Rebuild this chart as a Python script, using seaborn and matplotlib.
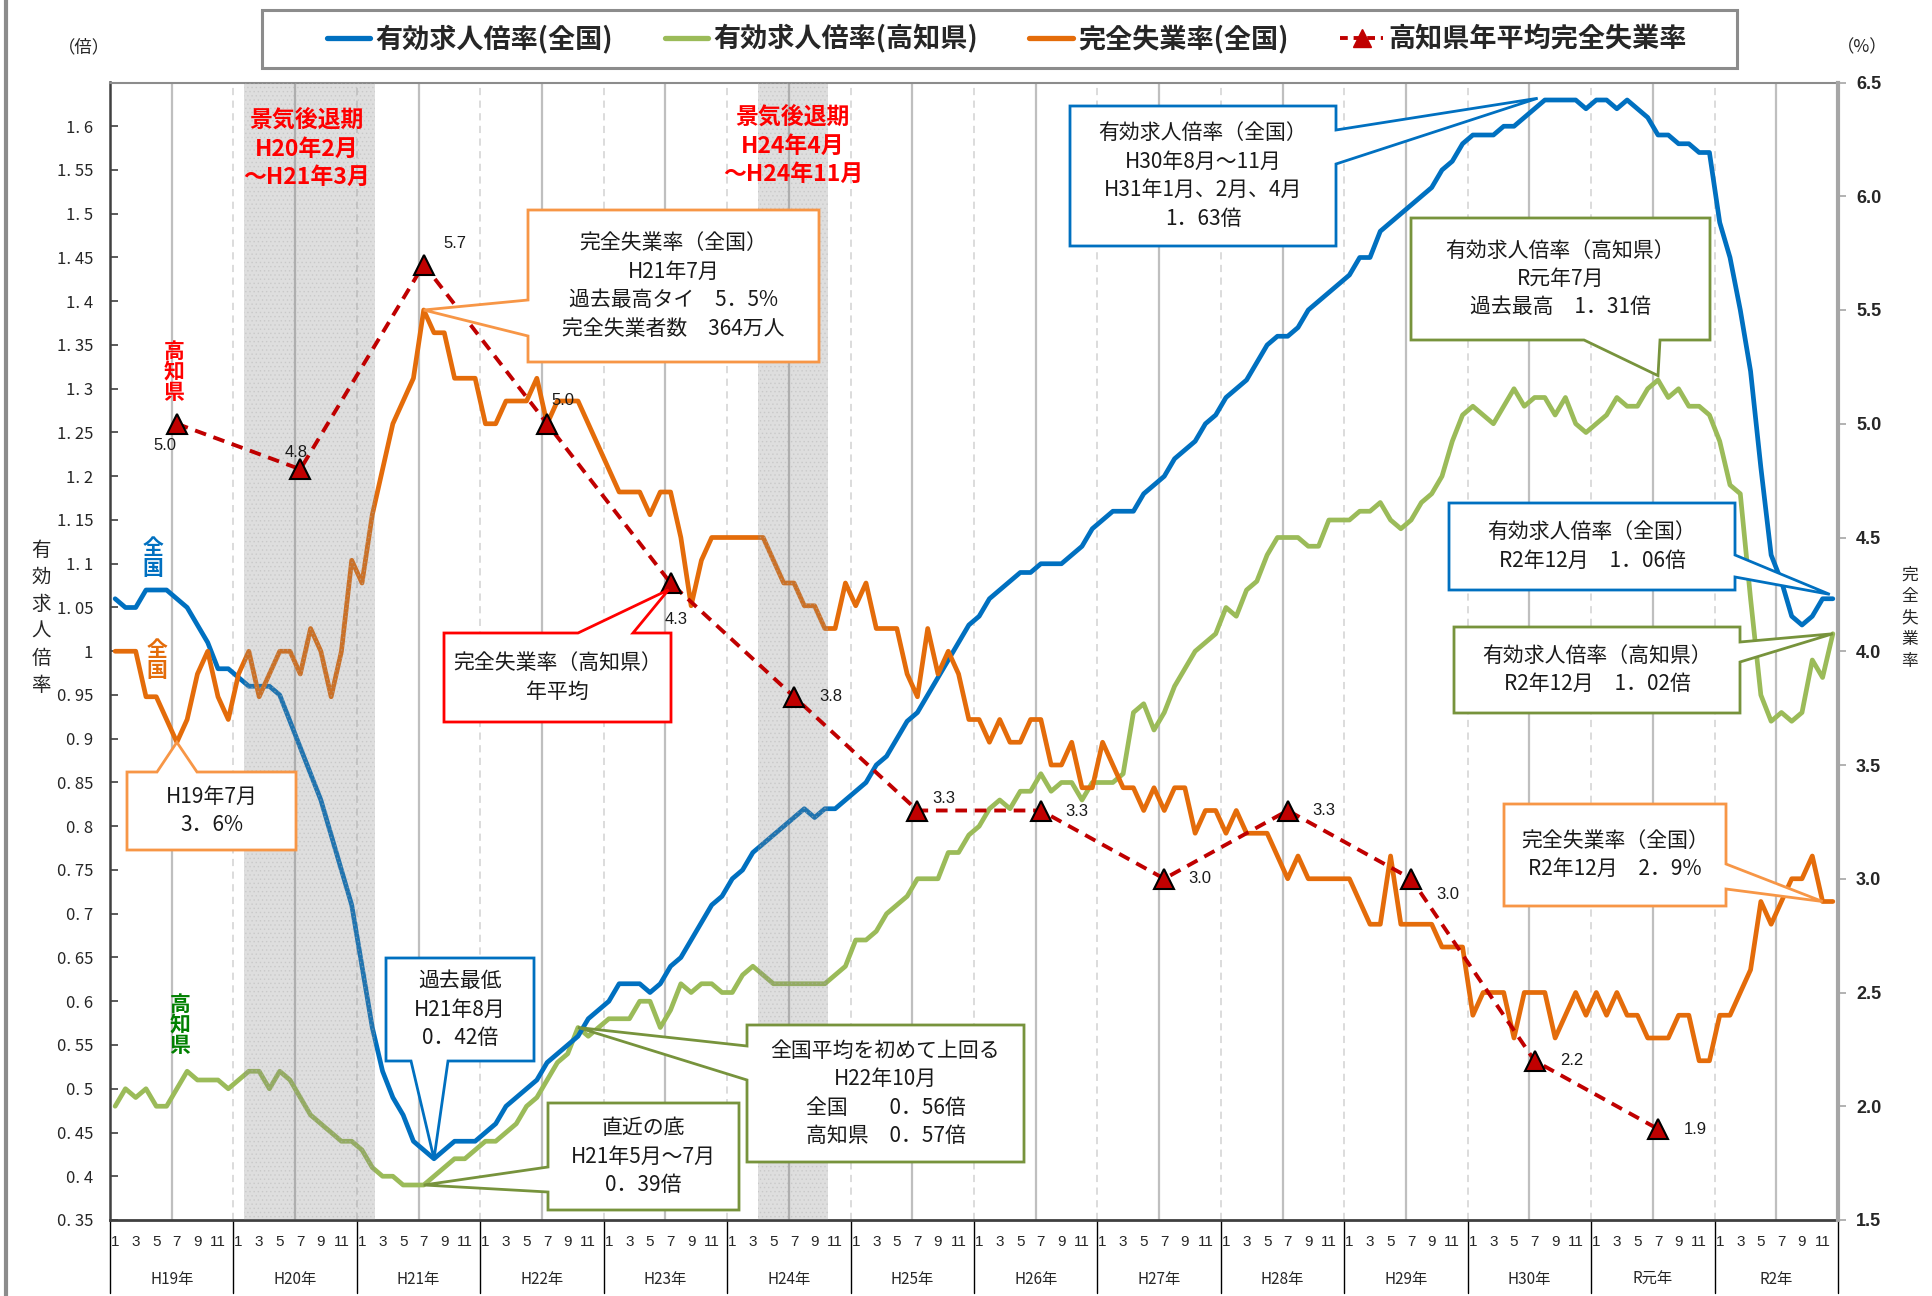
import numpy as np
import pandas as pd
import matplotlib
matplotlib.use("Agg")
import matplotlib.pyplot as plt
import matplotlib.transforms as mtransforms
from matplotlib.patches import Polygon, Rectangle
from matplotlib.lines import Line2D
import seaborn as sns

# ---------------- data ----------------
years = ["H19年", "H20年", "H21年", "H22年", "H23年", "H24年", "H25年",
         "H26年", "H27年", "H28年", "H29年", "H30年", "R元年", "R2年"]
month_labels = ["1", "3", "5", "7", "9", "11"]

# 有効求人倍率(全国)  monthly, H19.1 - R2.12
jobs_national = [
    1.06, 1.05, 1.05, 1.07, 1.07, 1.07, 1.06, 1.05, 1.03, 1.01, 0.98, 0.98,
    0.97, 0.96, 0.96, 0.96, 0.95, 0.92, 0.89, 0.86, 0.83, 0.79, 0.75, 0.71,
    0.64, 0.57, 0.52, 0.49, 0.47, 0.44, 0.43, 0.42, 0.43, 0.44, 0.44, 0.44,
    0.45, 0.46, 0.48, 0.49, 0.50, 0.51, 0.53, 0.54, 0.55, 0.56, 0.58, 0.59,
    0.60, 0.62, 0.62, 0.62, 0.61, 0.62, 0.64, 0.65, 0.67, 0.69, 0.71, 0.72,
    0.74, 0.75, 0.77, 0.78, 0.79, 0.80, 0.81, 0.82, 0.81, 0.82, 0.82, 0.83,
    0.84, 0.85, 0.87, 0.88, 0.90, 0.92, 0.93, 0.95, 0.97, 0.99, 1.01, 1.03,
    1.04, 1.06, 1.07, 1.08, 1.09, 1.09, 1.10, 1.10, 1.10, 1.11, 1.12, 1.14,
    1.15, 1.16, 1.16, 1.16, 1.18, 1.19, 1.20, 1.22, 1.23, 1.24, 1.26, 1.27,
    1.29, 1.30, 1.31, 1.33, 1.35, 1.36, 1.36, 1.37, 1.39, 1.40, 1.41, 1.42,
    1.43, 1.45, 1.45, 1.48, 1.49, 1.50, 1.51, 1.52, 1.53, 1.55, 1.56, 1.58,
    1.59, 1.59, 1.59, 1.60, 1.60, 1.61, 1.62, 1.63, 1.63, 1.63, 1.63, 1.62,
    1.63, 1.63, 1.62, 1.63, 1.62, 1.61, 1.59, 1.59, 1.58, 1.58, 1.57, 1.57,
    1.49, 1.45, 1.39, 1.32, 1.21, 1.11, 1.08, 1.04, 1.03, 1.04, 1.06, 1.06,
]

# 有効求人倍率(高知県)
jobs_kochi = [
    0.48, 0.50, 0.49, 0.50, 0.48, 0.48, 0.50, 0.52, 0.51, 0.51, 0.51, 0.50,
    0.51, 0.52, 0.52, 0.50, 0.52, 0.51, 0.49, 0.47, 0.46, 0.45, 0.44, 0.44,
    0.43, 0.41, 0.40, 0.40, 0.39, 0.39, 0.39, 0.40, 0.41, 0.42, 0.42, 0.43,
    0.44, 0.44, 0.45, 0.46, 0.48, 0.49, 0.51, 0.53, 0.54, 0.57, 0.56, 0.57,
    0.58, 0.58, 0.58, 0.60, 0.60, 0.57, 0.59, 0.62, 0.61, 0.62, 0.62, 0.61,
    0.61, 0.63, 0.64, 0.63, 0.62, 0.62, 0.62, 0.62, 0.62, 0.62, 0.63, 0.64,
    0.67, 0.67, 0.68, 0.70, 0.71, 0.72, 0.74, 0.74, 0.74, 0.77, 0.77, 0.79,
    0.80, 0.82, 0.83, 0.82, 0.84, 0.84, 0.86, 0.84, 0.85, 0.85, 0.83, 0.85,
    0.85, 0.85, 0.86, 0.93, 0.94, 0.91, 0.93, 0.96, 0.98, 1.00, 1.01, 1.02,
    1.05, 1.04, 1.07, 1.08, 1.11, 1.13, 1.13, 1.13, 1.12, 1.12, 1.15, 1.15,
    1.15, 1.16, 1.16, 1.17, 1.15, 1.14, 1.15, 1.17, 1.18, 1.20, 1.24, 1.27,
    1.28, 1.27, 1.26, 1.28, 1.30, 1.28, 1.29, 1.29, 1.27, 1.29, 1.26, 1.25,
    1.26, 1.27, 1.29, 1.28, 1.28, 1.30, 1.31, 1.29, 1.30, 1.28, 1.28, 1.27,
    1.24, 1.19, 1.18, 1.06, 0.95, 0.92, 0.93, 0.92, 0.93, 0.99, 0.97, 1.02,
]

# 完全失業率(全国) %
unemp_national = [
    4.0, 4.0, 4.0, 3.8, 3.8, 3.7, 3.6, 3.7, 3.9, 4.0, 3.8, 3.7,
    3.9, 4.0, 3.8, 3.9, 4.0, 4.0, 3.9, 4.1, 4.0, 3.8, 4.0, 4.4,
    4.3, 4.6, 4.8, 5.0, 5.1, 5.2, 5.5, 5.4, 5.4, 5.2, 5.2, 5.2,
    5.0, 5.0, 5.1, 5.1, 5.1, 5.2, 5.0, 5.1, 5.1, 5.1, 5.0, 4.9,
    4.8, 4.7, 4.7, 4.7, 4.6, 4.7, 4.7, 4.5, 4.2, 4.4, 4.5, 4.5,
    4.5, 4.5, 4.5, 4.5, 4.4, 4.3, 4.3, 4.2, 4.2, 4.1, 4.1, 4.3,
    4.2, 4.3, 4.1, 4.1, 4.1, 3.9, 3.8, 4.1, 3.9, 4.0, 3.9, 3.7,
    3.7, 3.6, 3.7, 3.6, 3.6, 3.7, 3.7, 3.5, 3.5, 3.6, 3.4, 3.4,
    3.6, 3.5, 3.4, 3.4, 3.3, 3.4, 3.3, 3.4, 3.4, 3.2, 3.3, 3.3,
    3.2, 3.3, 3.2, 3.2, 3.2, 3.1, 3.0, 3.1, 3.0, 3.0, 3.0, 3.0,
    3.0, 2.9, 2.8, 2.8, 3.1, 2.8, 2.8, 2.8, 2.8, 2.7, 2.7, 2.7,
    2.4, 2.5, 2.5, 2.5, 2.3, 2.5, 2.5, 2.5, 2.3, 2.4, 2.5, 2.4,
    2.5, 2.4, 2.5, 2.4, 2.4, 2.3, 2.3, 2.3, 2.4, 2.4, 2.2, 2.2,
    2.4, 2.4, 2.5, 2.6, 2.9, 2.8, 2.9, 3.0, 3.0, 3.1, 2.9, 2.9,
]

# 高知県年平均完全失業率 (plotted at July of each year)
kochi_annual = [5.0, 4.8, 5.7, 5.0, 4.3, 3.8, 3.3, 3.3, 3.0, 3.3, 3.0, 2.2, 1.9]

# recession periods (start month index, end month index)
recession_start = [13, 63]
recession_end = [26, 70]
recession_texts = ["景気後退期\nH20年2月\n～H21年3月", "景気後退期\nH24年4月\n～H24年11月"]

legend_labels = ["有効求人倍率(全国)", "有効求人倍率(高知県)", "完全失業率(全国)", "高知県年平均完全失業率"]

# ---------------- style ----------------
sns.set_theme(style="white")
JP = ["Noto Sans CJK JP", "DejaVu Sans"]
plt.rcParams["font.family"] = JP
plt.rcParams["axes.unicode_minus"] = False

C_BLUE = "#0070C0"
C_GREEN = "#9BBB59"
C_ORANGE = "#E46C0A"
C_RED = "#C00000"

W, H = 1932, 1296
fig = plt.figure(figsize=(W / 100, H / 100), dpi=100)
fig.patch.set_facecolor("white")

L, R, T, B = 110, 1838, 82.5, 1220
ax = fig.add_axes([L / W, 1 - B / H, (R - L) / W, (B - T) / H])
ax.set_facecolor("white")
ax2 = ax.twinx()

n = len(jobs_national)
months = np.arange(n)
df = pd.DataFrame({"m": months, "nat": jobs_national, "kochi": jobs_kochi, "unemp": unemp_national})
tdf = pd.DataFrame({"m": [12 * k + 6 for k in range(len(kochi_annual))], "v": kochi_annual})

# grid lines (mid-year solid, year boundary dashed)
for k in range(len(years)):
    ax.axvline(12 * k + 5.5, color="#bfbfbf", lw=1.6, zorder=0.5)
    if k > 0:
        ax.axvline(12 * k - 0.5, color="#d9d9d9", lw=1.3, ls=(0, (4, 3)), zorder=0.5)

sns.lineplot(data=df, x="m", y="kochi", ax=ax, color=C_GREEN, lw=3.4, zorder=2, legend=False)
sns.lineplot(data=df, x="m", y="nat", ax=ax, color=C_BLUE, lw=3.4, zorder=3, legend=False)
sns.lineplot(data=df, x="m", y="unemp", ax=ax2, color=C_ORANGE, lw=3.4, zorder=2, legend=False)

# recession shading (drawn over lines, translucent, dotted texture)
plt.rcParams["hatch.linewidth"] = 0.6
for s, e in zip(recession_start, recession_end):
    ax2.axvspan(s - 0.5, e - 0.7, facecolor="#808080", alpha=0.26, lw=0, zorder=4)
    ax2.axvspan(s - 0.5, e - 0.7, facecolor="none", edgecolor="#b0b0b0", hatch="....",
                alpha=0.35, lw=0, zorder=4)

sns.lineplot(data=tdf, x="m", y="v", ax=ax2, color=C_RED, lw=2.8, linestyle=(0, (3, 2)),
             marker="^", markersize=14, markerfacecolor=C_RED, markeredgecolor="black",
             markeredgewidth=1.5, zorder=6, legend=False)

tri_offsets = [(-8.6, -15.8), (-2.9, 12.2), (22.3, 15.1), (11.5, 16.6), (4.3, -26.6),
               (26.6, 0), (18.7, 8.6), (25.9, -0.7), (25.9, 0), (25.9, 0),
               (26.6, -11.5), (26.6, 0), (26.6, 0)]
for (mx, v), off in zip(zip(tdf["m"], tdf["v"]), tri_offsets):
    ax2.annotate(f"{v:.1f}", (mx, v), xytext=off, textcoords="offset points",
                 ha="center", va="center", fontsize=12,
                 family=["Liberation Sans", "DejaVu Sans"], color="#1a1a1a", zorder=7)

ax.set_xlim(-0.5, n - 0.5)
ax.set_ylim(0.35, 1.65)
ax2.set_ylim(1.5, 6.5)
for a in (ax, ax2):
    a.set_xlabel("")
    a.set_ylabel("")
    for s in a.spines.values():
        s.set_visible(False)
ax.spines["left"].set_visible(True)
ax.spines["left"].set_color("#404040")
ax.spines["left"].set_linewidth(1.8)
ax.spines["bottom"].set_visible(True)
ax.spines["bottom"].set_color("#404040")
ax.spines["bottom"].set_linewidth(2)
ax.spines["top"].set_visible(True)
ax.spines["top"].set_color("#8c8c8c")
ax.spines["top"].set_linewidth(1.5)
ax2.spines["right"].set_visible(True)
ax2.spines["right"].set_color("#a6a6a6")
ax2.spines["right"].set_linewidth(3)


def fmt_left(v):
    s = f"{v:.2f}".rstrip("0").rstrip(".")
    return s.replace(".", ". ")


yt = np.round(np.arange(0.35, 1.6001, 0.05), 2)
ax.set_yticks(yt)
ax.set_yticklabels([fmt_left(v) for v in yt])
ax.tick_params(axis="y", direction="in", length=6, width=1.2, color="#404040", pad=12,
               labelsize=12, left=True)
yt2 = np.round(np.arange(1.5, 6.501, 0.5), 1)
ax2.set_yticks(yt2)
ax2.set_yticklabels([f"{v:.1f}" for v in yt2])
ax2.tick_params(axis="y", direction="out", length=6, width=1.2, color="#a6a6a6", pad=7,
                labelsize=13, right=True)
for lab in ax2.get_yticklabels():
    lab.set_fontfamily(["Liberation Sans", "DejaVu Sans"])
    lab.set_fontweight("bold")

xt = [12 * k + j for k in range(len(years)) for j in range(0, 12, 2)]
ax.set_xticks(xt)
ax.set_xticklabels(month_labels * len(years))
ax.tick_params(axis="x", length=0, pad=11, labelsize=11, bottom=True)
for lab in ax.get_xticklabels():
    lab.set_fontfamily(["Liberation Sans Narrow", "Liberation Sans", "DejaVu Sans"])

blend = mtransforms.blended_transform_factory(ax.transData, ax.transAxes)
for k, yl in enumerate(years):
    ax.text(12 * k + 5.5, -0.052, yl, transform=blend, ha="center", va="center", fontsize=11,
            family=["Liberation Sans Narrow", "Noto Sans CJK JP", "DejaVu Sans"])
for k in range(len(years) + 1):
    ax.add_line(Line2D([12 * k - 0.5] * 2, [0, -0.064], transform=blend, color="black",
                       lw=1, clip_on=False))
ax.set_xlim(-0.5, n - 0.5)

# side labels
fig.text(84 / W, 1 - 47 / H, "（倍）", ha="center", va="center", fontsize=12.5)
fig.text(1862 / W, 1 - 47 / H, "（%）", ha="center", va="center", fontsize=12.5)
fig.text(41 / W, 1 - 618 / H, "\n".join("有効求人倍率"), ha="center", va="center",
         fontsize=14, linespacing=1.38)
fig.text(1910 / W, 1 - 618 / H, "\n".join("完全失業率"), ha="center", va="center",
         fontsize=12, linespacing=1.35)

# series tags
fig.text(153 / W, 1 - 558 / H, "全\n国", color=C_BLUE, fontsize=15, fontweight="bold",
         ha="center", va="center", linespacing=1.0)
fig.text(157 / W, 1 - 660 / H, "全\n国", color=C_ORANGE, fontsize=15, fontweight="bold",
         ha="center", va="center", linespacing=1.0)
fig.text(174 / W, 1 - 372 / H, "高\n知\n県", color="#FF0000", fontsize=15, fontweight="bold",
         ha="center", va="center", linespacing=1.0)
fig.text(180 / W, 1 - 1025 / H, "高\n知\n県", color="#008000", fontsize=15, fontweight="bold",
         ha="center", va="center", linespacing=1.0)

# recession texts
for (cx, cy), txt in zip([(307, 149), (793, 146)], recession_texts):
    fig.text(cx / W, 1 - cy / H, txt, color="#FF0000", fontsize=16.5, fontweight="bold",
             ha="center", va="center", linespacing=1.3, zorder=8)


# callouts
def to_fig(x, y):
    return (x / W, 1 - y / H)


def callout(box, side, attach, tip_ax, tip, text, color, fs=15, ls=1.38):
    x0, y0, x1, y1 = box
    px, py = tip_ax.transData.transform(tip)
    tx, ty = px, H - py
    a, b = attach
    pts = [(x0, y0)]
    if side == "top":
        pts += [(a, y0), (tx, ty), (b, y0)]
    pts.append((x1, y0))
    if side == "right":
        pts += [(x1, a), (tx, ty), (x1, b)]
    pts.append((x1, y1))
    if side == "bottom":
        pts += [(b, y1), (tx, ty), (a, y1)]
    pts.append((x0, y1))
    if side == "left":
        pts += [(x0, b), (tx, ty), (x0, a)]
    poly = Polygon([to_fig(*p) for p in pts], closed=True, transform=fig.transFigure,
                   facecolor="white", edgecolor=color, lw=2, zorder=10, joinstyle="miter")
    fig.add_artist(poly)
    fig.text(*to_fig((x0 + x1) / 2, (y0 + y1) / 2), text, ha="center", va="center",
             multialignment="center", fontsize=fs, linespacing=ls, zorder=11, color="#1a1a1a")


C_OBOX = "#F79646"
C_GBOX = "#77933C"
callout((528, 210, 819, 362), "left", (300, 336), ax2, (30, 5.5),
        "完全失業率（全国）\nH21年7月\n過去最高タイ　5．5%\n完全失業者数　364万人", C_OBOX)
callout((127, 772, 296, 850), "top", (157, 197), ax2, (6, 3.6), "H19年7月\n3．6%", C_OBOX)
callout((444, 633, 671, 722), "top", (578, 633), ax2, (53.8, 4.27),
        "完全失業率（高知県）\n年平均", "#FF0000")
callout((386, 958, 534, 1061), "bottom", (411, 448), ax, (31, 0.42),
        "過去最低\nH21年8月\n0．42倍", C_BLUE)
callout((548, 1103, 739, 1210), "left", (1167, 1192), ax, (30, 0.39),
        "直近の底\nH21年5月～7月\n0．39倍", C_GBOX)
callout((747, 1025, 1024, 1162), "left", (1046, 1080), ax, (45, 0.57),
        "全国平均を初めて上回る\nH22年10月\n全国　　0．56倍\n高知県　0．57倍", C_GBOX)
callout((1070, 106, 1336, 246), "right", (130, 164), ax, (138.3, 1.632),
        "有効求人倍率（全国）\nH30年8月～11月\nH31年1月、2月、4月\n1．63倍", C_BLUE)
callout((1411, 218, 1710, 340), "bottom", (1584, 1660), ax, (150, 1.315),
        "有効求人倍率（高知県）\nR元年7月\n過去最高　1．31倍", C_GBOX)
callout((1449, 503, 1735, 590), "right", (555, 577), ax, (166.7, 1.065),
        "有効求人倍率（全国）\nR2年12月　1．06倍", C_BLUE)
callout((1454, 627, 1740, 713), "right", (642, 662), ax, (167, 1.02),
        "有効求人倍率（高知県）\nR2年12月　1．02倍", C_GBOX)
callout((1504, 804, 1726, 906), "right", (864, 889), ax2, (166, 2.9),
        "完全失業率（全国）\nR2年12月　2．9%", C_OBOX)

# legend
fig.add_artist(Rectangle(to_fig(262, 68), 1475 / W, 58 / H, transform=fig.transFigure,
                         facecolor="white", edgecolor="#8c8c8c", lw=2.2, zorder=9))
handles = [
    Line2D([], [], color=C_BLUE, lw=3.8),
    Line2D([], [], color=C_GREEN, lw=3.8),
    Line2D([], [], color=C_ORANGE, lw=3.8),
    Line2D([], [], color=C_RED, lw=2.8, ls=(0, (2, 1.5)), marker="^", markersize=13,
           markerfacecolor=C_RED, markeredgecolor=C_RED),
]
leg = fig.legend(handles, legend_labels, loc="center", bbox_to_anchor=(1007 / W, 1 - 39 / H),
                 ncol=4, frameon=False, handlelength=1.6, handletextpad=0.2, columnspacing=1.9,
                 prop={"family": JP, "weight": "bold", "size": 19.5})
leg.set_zorder(12)

# left border bar
fig.add_artist(Line2D([6 / W, 6 / W], [0, 1], transform=fig.transFigure, color="#8c8c8c", lw=3))

fig.savefig("out.png", dpi=100, facecolor="white")
